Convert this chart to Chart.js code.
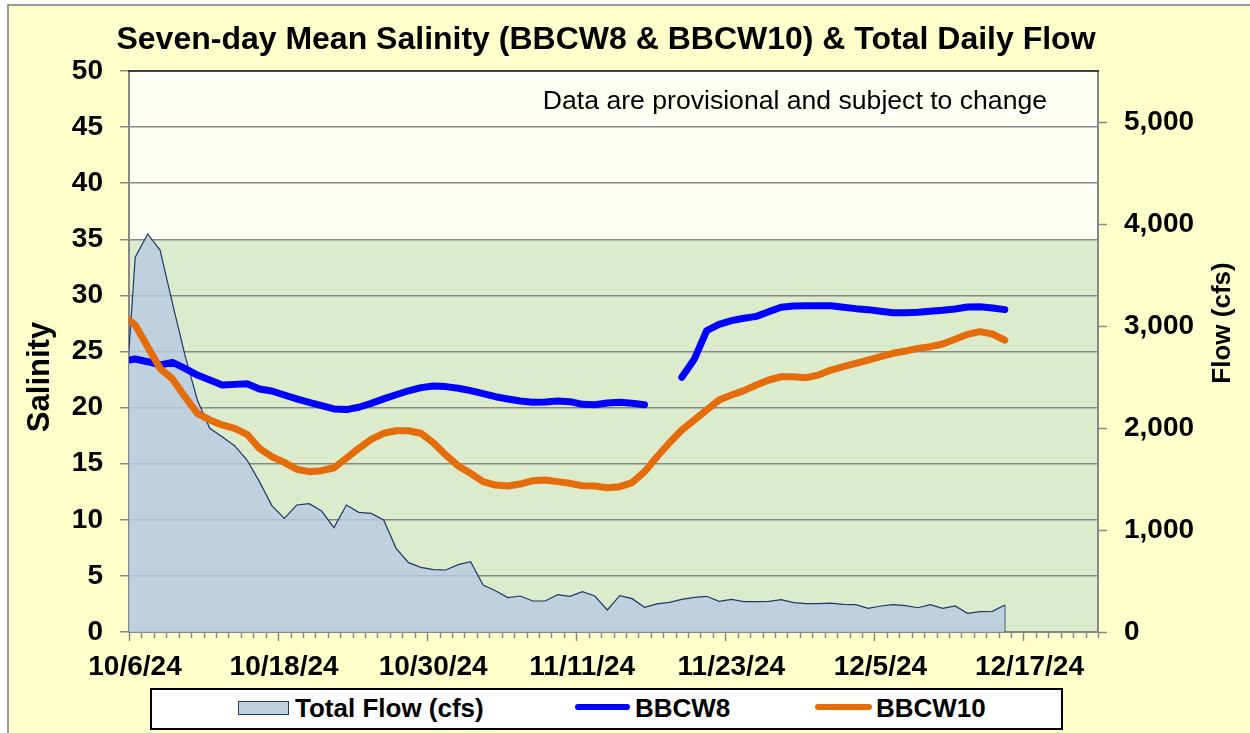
<!DOCTYPE html>
<html>
<head>
<meta charset="utf-8">
<title>Seven-day Mean Salinity &amp; Total Daily Flow</title>
<script src="https://cdn.jsdelivr.net/npm/chart.js@4.4.1/dist/chart.umd.min.js"></script>
<style>
  body { margin: 0; background: #fff; }
  #wrap { position: relative; width: 1250px; height: 733px; }
  #legend {
    position: absolute; left: 150px; top: 688px; width: 913px; height: 42px;
    box-sizing: border-box; border: 2px solid #000; background: #fff;
    font: bold 26px 'Liberation Sans', Arial, sans-serif; color: #000;
  }
  .key { position: absolute; top: 5px; line-height: 26px; white-space: nowrap; }
  .sw { position: absolute; box-sizing: border-box; }
  .sw-flow { left: 86px; top: 11px; width: 51px; height: 14px; background: #bfd1df; border: 1px solid #1f3864; }
  .sw-w8 { left: 423px; top: 14px; width: 55px; height: 6px; border-radius: 3px; background: #0000ff; }
  .sw-w10 { left: 663px; top: 14px; width: 57px; height: 6px; border-radius: 3px; background: #e46c0a; }
</style>
</head>
<body>
<div id="wrap">
  <canvas id="salinity" width="1250" height="733"></canvas>
  <div id="legend">
    <span class="sw sw-flow"></span><span class="key" style="left:143px">Total Flow (cfs)</span>
    <span class="sw sw-w8"></span><span class="key" style="left:483px">BBCW8</span>
    <span class="sw sw-w10"></span><span class="key" style="left:724px">BBCW10</span>
  </div>
</div>
<script>
// daily values, one per date
const dates = [
  '10/5/24', '10/6/24', '10/7/24', '10/8/24', '10/9/24', '10/10/24', '10/11/24', '10/12/24', '10/13/24',
  '10/14/24', '10/15/24', '10/16/24', '10/17/24', '10/18/24', '10/19/24', '10/20/24', '10/21/24',
  '10/22/24', '10/23/24', '10/24/24', '10/25/24', '10/26/24', '10/27/24', '10/28/24', '10/29/24',
  '10/30/24', '10/31/24',
  '11/1/24', '11/2/24', '11/3/24', '11/4/24', '11/5/24', '11/6/24', '11/7/24', '11/8/24', '11/9/24',
  '11/10/24', '11/11/24', '11/12/24', '11/13/24', '11/14/24', '11/15/24', '11/16/24', '11/17/24',
  '11/18/24', '11/19/24', '11/20/24', '11/21/24', '11/22/24', '11/23/24', '11/24/24', '11/25/24',
  '11/26/24', '11/27/24', '11/28/24', '11/29/24', '11/30/24',
  '12/1/24', '12/2/24', '12/3/24', '12/4/24', '12/5/24', '12/6/24', '12/7/24', '12/8/24', '12/9/24',
  '12/10/24', '12/11/24', '12/12/24', '12/13/24', '12/14/24', '12/15/24'
];

const totalFlow = [
  1860, 3674, 3902, 3745, 3222, 2716, 2275, 1997, 1915, 1827, 1686, 1474, 1239, 1114, 1245, 1258,
  1186, 1023, 1245, 1173, 1163, 1098, 820, 680, 634, 611, 608, 660, 690, 461, 405, 337,
  353, 304, 304, 366, 350, 395, 353, 216, 356, 327, 242, 275, 291, 320, 340, 350,
  301, 320, 297, 297, 301, 317, 288, 278, 278, 284, 271, 268, 232, 255, 268, 258,
  238, 268, 232, 255, 183, 199, 203, 265
];

const bbcw8 = [
  24.15, 24.33, 24.09, 23.80, 24.03, 23.50, 22.90, 22.46, 22.01, 22.07, 22.13, 21.66, 21.48, 21.12,
  20.77, 20.47, 20.17, 19.88, 19.82, 20.03, 20.38, 20.78, 21.15, 21.50, 21.78, 21.93, 21.87, 21.72,
  21.51, 21.24, 20.97, 20.77, 20.59, 20.47, 20.50, 20.59, 20.53, 20.29, 20.26, 20.41, 20.47, 20.38,
  20.26, null, null, 22.70, 24.30, 26.86, 27.42, 27.75, 27.96, 28.13, 28.55, 28.94, 29.06, 29.08,
  29.08, 29.08, 28.94, 28.82, 28.73, 28.58, 28.46, 28.46, 28.49, 28.58, 28.67, 28.79, 28.97, 28.99,
  28.88, 28.73
];

const bbcw10 = [
  28.24, 27.36, 25.43, 23.50, 22.55, 20.97, 19.49, 18.90, 18.45, 18.15, 17.62, 16.37, 15.62, 15.12,
  14.50, 14.29, 14.38, 14.64, 15.48, 16.37, 17.17, 17.71, 17.94, 17.94, 17.71, 16.87, 15.78, 14.80,
  14.14, 13.40, 13.10, 13.01, 13.19, 13.49, 13.55, 13.40, 13.25, 13.04, 13.01, 12.86, 12.95, 13.31,
  14.29, 15.62, 16.87, 18.00, 18.90, 19.79, 20.68, 21.12, 21.51, 22.01, 22.46, 22.75, 22.75, 22.67,
  22.90, 23.35, 23.65, 23.95, 24.24, 24.54, 24.84, 25.04, 25.28, 25.43, 25.67, 26.09, 26.53, 26.77,
  26.56, 26.02
];

const dateTicks = ['10/6/24', '10/18/24', '10/30/24', '11/11/24', '11/23/24', '12/5/24', '12/17/24'];
const flowTicks = [0, 1000, 2000, 3000, 4000, 5000];

// x axis runs in days from 10/6/24; each day's value sits mid-day
const AXIS_START = Date.UTC(2024, 9, 6);
const AXIS_DAYS = 78;
const TICK_EVERY = 12;
const BAND_LIMIT = 35;

const FONT = "'Liberation Sans', Arial, sans-serif";

function dayPos(d) {
  const [m, dd, yy] = d.split('/').map(Number);
  return (Date.UTC(2000 + yy, m - 1, dd) - AXIS_START) / 864e5 + 0.5;
}

const pts = vals => dates.map((d, i) => ({ x: dayPos(d), y: vals[i] }));
const lastX = dayPos(dates[dates.length - 1]);
const lastFlow = totalFlow[totalFlow.length - 1];

const decor = {
  id: 'decor',
  beforeDraw(chart) {
    const { ctx, chartArea: a, scales } = chart;
    ctx.save();
    ctx.fillStyle = '#fff';
    ctx.fillRect(0, 0, chart.width, chart.height);
    ctx.fillStyle = '#ffffcc';
    ctx.fillRect(8, 5, chart.width, chart.height);
    ctx.strokeStyle = '#9a9a9a';
    ctx.lineWidth = 2;
    ctx.strokeRect(8, 5, chart.width + 10, chart.height + 10);
    const yBand = scales.y.getPixelForValue(BAND_LIMIT);
    ctx.fillStyle = '#fefef4';
    ctx.fillRect(a.left, a.top, a.right - a.left, yBand - a.top);
    ctx.fillStyle = '#ddebcd';
    ctx.fillRect(a.left, yBand, a.right - a.left, a.bottom - yBand);
    ctx.restore();
  },
  afterDraw(chart) {
    const { ctx, chartArea: a, scales } = chart;
    ctx.save();
    // top edge of the plot
    ctx.strokeStyle = '#222';
    ctx.lineWidth = 1.5;
    ctx.beginPath();
    ctx.moveTo(a.left - 1, a.top);
    ctx.lineTo(a.right + 1, a.top);
    ctx.stroke();

    // short daily ticks between the labelled dates
    ctx.strokeStyle = '#888';
    ctx.lineWidth = 1.5;
    ctx.beginPath();
    for (let d = 0; d <= AXIS_DAYS; d++) {
      if (d % TICK_EVERY === 0) continue;
      const px = Math.round(scales.x.getPixelForValue(d)) + 0.5;
      ctx.moveTo(px, a.bottom);
      ctx.lineTo(px, a.bottom + 6);
    }
    ctx.stroke();

    // axis titles, both reading upward
    ctx.fillStyle = '#000';
    ctx.textAlign = 'center';
    ctx.textBaseline = 'middle';
    ctx.font = `bold 31px ${FONT}`;
    ctx.translate(40, 377);
    ctx.rotate(-Math.PI / 2);
    ctx.fillText('Salinity', 0, 0);
    ctx.setTransform(1, 0, 0, 1, 0, 0);
    ctx.font = `bold 26px ${FONT}`;
    ctx.translate(1223, 323);
    ctx.rotate(-Math.PI / 2);
    ctx.fillText('Flow (cfs)', 0, 0);
    ctx.setTransform(1, 0, 0, 1, 0, 0);

    ctx.font = `26.6px ${FONT}`;
    ctx.textAlign = 'right';
    ctx.fillText('Data are provisional and subject to change', a.right - 51, a.top + 31);
    ctx.restore();
  }
};

new Chart(document.getElementById('salinity'), {
  type: 'line',
  data: {
    datasets: [
      {
        label: 'BBCW10',
        data: pts(bbcw10),
        borderColor: '#e46c0a',
        borderWidth: 7,
        borderCapStyle: 'round',
        borderJoinStyle: 'round',
        pointRadius: 0,
        clip: 0,
        yAxisID: 'y',
        order: 0
      },
      {
        label: 'BBCW8',
        data: pts(bbcw8),
        borderColor: '#0000ff',
        borderWidth: 7,
        borderCapStyle: 'round',
        borderJoinStyle: 'round',
        pointRadius: 0,
        spanGaps: false,
        clip: 0,
        yAxisID: 'y',
        order: 1
      },
      {
        label: 'Total Flow (cfs)',
        data: pts(totalFlow),
        fill: 'origin',
        backgroundColor: 'rgba(184,203,227,0.8)',
        borderColor: '#1f3864',
        borderWidth: 1.2,
        pointRadius: 0,
        clip: 0,
        yAxisID: 'y2',
        order: 2
      },
      {
        label: 'flow edge',
        data: [{ x: lastX, y: 0 }, { x: lastX, y: lastFlow }],
        borderColor: '#1f3864',
        borderWidth: 1.2,
        pointRadius: 0,
        yAxisID: 'y2',
        order: 2
      }
    ]
  },
  options: {
    responsive: false,
    animation: false,
    layout: { padding: { left: 0, right: 38, top: 0, bottom: 40 } },
    plugins: {
      legend: { display: false },
      tooltip: { enabled: false },
      title: {
        display: true,
        text: 'Seven-day Mean Salinity (BBCW8 & BBCW10) & Total Daily Flow',
        color: '#000',
        font: { family: FONT, size: 32, weight: 'bold' },
        padding: { top: 21, bottom: 11.6 }
      }
    },
    scales: {
      x: {
        type: 'linear',
        min: 0,
        max: AXIS_DAYS,
        afterFit: s => { s.height = 61; },
        ticks: {
          stepSize: TICK_EVERY,
          includeBounds: false,
          autoSkip: false,
          maxRotation: 0,
          padding: 9,
          labelOffset: 6,
          color: '#000',
          font: { family: FONT, size: 28, weight: 'bold' },
          callback: v => dateTicks[Math.round(v / TICK_EVERY)]
        },
        grid: { drawOnChartArea: false, tickLength: 9, tickColor: '#888', tickWidth: 1.5 },
        border: { color: '#888', width: 2 }
      },
      y: {
        position: 'left',
        min: 0,
        max: 50,
        afterFit: s => { s.width = 129; },
        ticks: {
          stepSize: 5,
          padding: 17,
          color: '#000',
          font: { family: FONT, size: 28, weight: 'bold' }
        },
        grid: { color: '#888', lineWidth: 1.5, tickLength: 9, tickColor: '#888', tickWidth: 1.5 },
        border: { color: '#888', width: 2 }
      },
      y2: {
        position: 'right',
        min: 0,
        max: 5500,
        afterFit: s => { s.width = 114; },
        afterBuildTicks: s => { s.ticks = flowTicks.map(v => ({ value: v })); },
        ticks: {
          autoSkip: false,
          padding: 17,
          color: '#000',
          font: { family: FONT, size: 28, weight: 'bold' },
          callback: v => v.toLocaleString('en-US')
        },
        grid: { drawOnChartArea: false, tickLength: 9, tickColor: '#888', tickWidth: 1.5 },
        border: { color: '#888', width: 2 }
      }
    }
  },
  plugins: [decor]
});
</script>
</body>
</html>
